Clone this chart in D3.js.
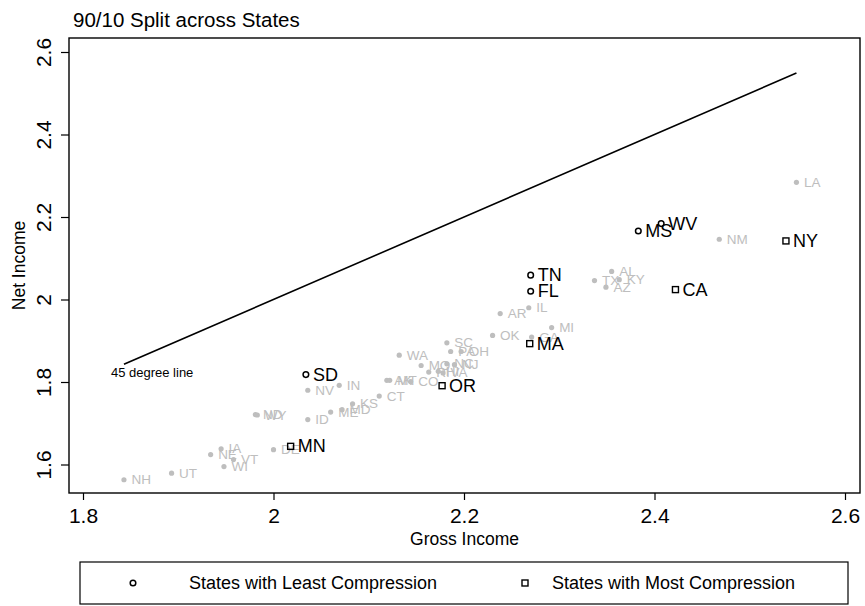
<!DOCTYPE html>
<html>
<head>
<meta charset="utf-8">
<script src="https://cdn.jsdelivr.net/npm/d3@7"></script>
<style>
  html, body { margin: 0; padding: 0; background: #fff; }
  svg { display: block; font-family: "Liberation Sans", Arial, Helvetica, sans-serif; }
</style>
</head>
<body>
<svg id="chart" width="865" height="606"></svg>
<script>
// ---- data ----
const states = ["NH","UT","NE","IA","WI","VT","ND","WY","DE","MN","SD","NV","ID","ME","IN","MD","KS","CT","AK","MT","WA","CO","MO","RI","HI","OR","VA","SC","NC","PA","NJ","OH","OK","AR","IL","MA","TN","FL","GA","MI","TX","AZ","AL","KY","MS","WV","CA","NM","NY","LA"];
const gross = [1.843,1.893,1.934,1.945,1.948,1.958,1.981,1.983,2.000,2.018,2.034,2.036,2.036,2.060,2.069,2.072,2.083,2.111,2.119,2.122,2.132,2.144,2.155,2.163,2.173,2.177,2.178,2.182,2.182,2.186,2.190,2.197,2.230,2.238,2.268,2.269,2.270,2.270,2.271,2.292,2.337,2.349,2.355,2.363,2.383,2.407,2.422,2.468,2.538,2.549];
const net = [1.563,1.579,1.624,1.638,1.595,1.612,1.721,1.720,1.636,1.644,1.818,1.780,1.709,1.727,1.792,1.733,1.747,1.766,1.804,1.804,1.865,1.801,1.840,1.824,1.826,1.791,1.822,1.895,1.844,1.874,1.842,1.874,1.913,1.966,1.980,1.893,2.059,2.020,1.909,1.932,2.046,2.030,2.068,2.048,2.166,2.184,2.024,2.146,2.142,2.284];
const leastCompression = ["SD","TN","FL","MS","WV"];
const mostCompression = ["MN","OR","MA","CA","NY"];
const xTicks = [1.8, 2, 2.2, 2.4, 2.6];
const yTicks = [1.6, 1.8, 2, 2.2, 2.4, 2.6];
const titleText = "90/10 Split across States";
const xTitle = "Gross Income";
const yTitle = "Net Income";
const lineLabel = "45 degree line";
const legendLabels = ["States with Least Compression", "States with Most Compression"];

// ---- build ----
const rows = states.map((s, i) => ({
  state: s, gross: gross[i], net: net[i],
  group: leastCompression.includes(s) ? "least" : (mostCompression.includes(s) ? "most" : "other")
}));

const svg = d3.select("#chart");
const frame = { left: 69, right: 860, top: 38, bottom: 493 };
const x = d3.scaleLinear().domain([1.8, 2.6]).range([83, 845]);
const y = d3.scaleLinear().domain([1.6, 2.6]).range([464.5, 52]);
const grey = "#bebebe";

// title
svg.append("text").attr("x", 73).attr("y", 27)
  .attr("font-size", 20.5).attr("fill", "#000").text(titleText);

// plot frame
svg.append("rect")
  .attr("x", frame.left).attr("y", frame.top)
  .attr("width", frame.right - frame.left).attr("height", frame.bottom - frame.top)
  .attr("fill", "none").attr("stroke", "#000").attr("stroke-width", 1.4);

// x axis
const xAxis = svg.append("g").attr("transform", `translate(0,${frame.bottom})`)
  .call(d3.axisBottom(x).tickValues(xTicks).tickSize(7).tickPadding(8).tickFormat(d3.format("~g")));
xAxis.select(".domain").remove();
xAxis.selectAll("line").attr("stroke", "#000").attr("stroke-width", 1.2);
xAxis.selectAll("text").attr("font-size", 21).attr("fill", "#000")
  .attr("font-family", "Liberation Sans, Arial, sans-serif");

// y axis
const yAxis = svg.append("g").attr("transform", `translate(${frame.left},0)`)
  .call(d3.axisLeft(y).tickValues(yTicks).tickSize(8).tickFormat(d3.format("~g")));
yAxis.select(".domain").remove();
yAxis.selectAll("line").attr("stroke", "#000").attr("stroke-width", 1.2);
yAxis.selectAll("text")
  .attr("x", null).attr("dy", null)
  .attr("transform", "translate(-26,0) rotate(-90)")
  .attr("text-anchor", "middle").attr("dominant-baseline", "central")
  .attr("font-size", 21).attr("fill", "#000")
  .attr("font-family", "Liberation Sans, Arial, sans-serif");

// axis titles
svg.append("text").attr("x", (frame.left + frame.right) / 2).attr("y", 545)
  .attr("text-anchor", "middle").attr("font-size", 17.5).text(xTitle);
svg.append("text").attr("transform", `translate(19,${(frame.top + frame.bottom) / 2}) rotate(-90)`)
  .attr("text-anchor", "middle").attr("dominant-baseline", "central")
  .attr("font-size", 17.5).text(yTitle);

// 45 degree line
const ext = d3.extent(gross);
svg.append("line")
  .attr("x1", x(ext[0])).attr("y1", y(ext[0]))
  .attr("x2", x(ext[1])).attr("y2", y(ext[1]))
  .attr("stroke", "#000").attr("stroke-width", 1.6);
svg.append("text").attr("x", x(ext[0]) - 13).attr("y", y(ext[0]) + 13)
  .attr("font-size", 13).attr("fill", "#000").text(lineLabel);

// grey points
const others = rows.filter(d => d.group === "other");
svg.append("g").selectAll("circle").data(others).join("circle")
  .attr("cx", d => x(d.gross)).attr("cy", d => y(d.net)).attr("r", 2.6).attr("fill", grey);
svg.append("g").selectAll("text").data(others).join("text")
  .attr("x", d => x(d.gross) + 7.5).attr("y", d => y(d.net))
  .attr("dominant-baseline", "central").attr("font-size", 13.5).attr("fill", grey)
  .text(d => d.state);

// highlighted points
const least = rows.filter(d => d.group === "least");
const most = rows.filter(d => d.group === "most");
svg.append("g").selectAll("circle").data(least).join("circle")
  .attr("cx", d => x(d.gross)).attr("cy", d => y(d.net)).attr("r", 2.8)
  .attr("fill", "none").attr("stroke", "#000").attr("stroke-width", 1.5);
svg.append("g").selectAll("rect").data(most).join("rect")
  .attr("x", d => x(d.gross) - 3).attr("y", d => y(d.net) - 3)
  .attr("width", 6).attr("height", 6)
  .attr("fill", "none").attr("stroke", "#000").attr("stroke-width", 1.4);
svg.append("g").selectAll("text").data(least.concat(most)).join("text")
  .attr("x", d => x(d.gross) + 7).attr("y", d => y(d.net))
  .attr("dominant-baseline", "central").attr("font-size", 18).attr("fill", "#000")
  .text(d => d.state);

// legend
svg.append("rect").attr("x", 80).attr("y", 562).attr("width", 768).attr("height", 42)
  .attr("fill", "#fff").attr("stroke", "#000").attr("stroke-width", 1.2);
svg.append("circle").attr("cx", 133).attr("cy", 583).attr("r", 2.8)
  .attr("fill", "none").attr("stroke", "#000").attr("stroke-width", 1.5);
svg.append("text").attr("x", 189).attr("y", 583).attr("dominant-baseline", "central")
  .attr("font-size", 18).text(legendLabels[0]);
svg.append("rect").attr("x", 522).attr("y", 580).attr("width", 6).attr("height", 6)
  .attr("fill", "none").attr("stroke", "#000").attr("stroke-width", 1.4);
svg.append("text").attr("x", 552).attr("y", 583).attr("dominant-baseline", "central")
  .attr("font-size", 18).text(legendLabels[1]);
</script>
</body>
</html>
